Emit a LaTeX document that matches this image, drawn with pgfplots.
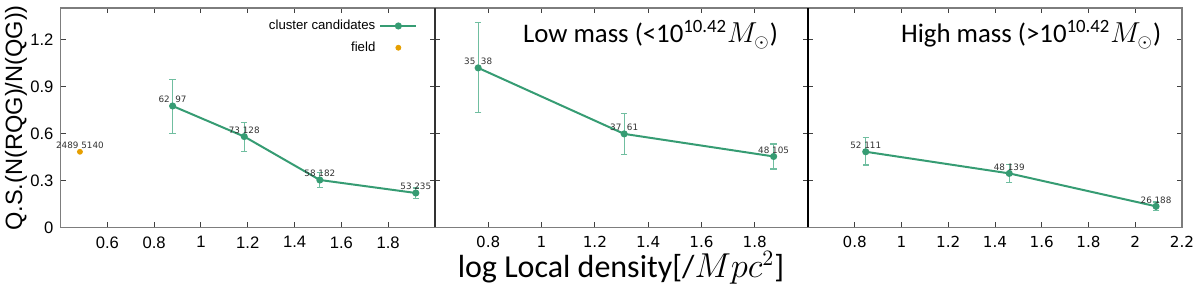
\documentclass[border=0pt]{standalone}
\usepackage{fontspec}
\setmainfont{Carlito}
\newfontfamily\arialf{Liberation Sans}
\newfontfamily\dejavu{DejaVu Sans}
\usepackage{pgfplots}
\pgfplotsset{compat=1.18}
\definecolor{lgreen}{RGB}{54,156,115}
\definecolor{errc}{RGB}{112,190,160}
\definecolor{forange}{RGB}{230,159,0}
\definecolor{framec}{RGB}{125,125,125}
\definecolor{lblc}{RGB}{50,50,50}
\tikzset{lab/.style={anchor=south, font=\dejavu\fontsize{4.4}{5}\selectfont, text=lblc, inner sep=0.5pt, yshift=0.8pt}}
\pgfplotsset{
  myleg/.style={legend image code/.code={\draw[##1, mark repeat=2, mark phase=2] plot coordinates {(0pt,0pt) (9pt,0pt) (18pt,0pt)};}},
  panel/.style={
    scale only axis, anchor=south west,
    height=109.75pt, ymin=0, ymax=1.4,
    ytick={0,0.3,0.6,0.9,1.2},
    tick align=inside, major tick length=2.5pt,
    axis line style={framec, line width=0.6pt},
    tick style={black!75, line width=0.5pt},
    clip=false,
    /pgf/number format/assume math mode=true,
    xticklabel style={yshift=-1pt},
  },
  ser/.style={color=lgreen, line width=1pt, mark=*, mark size=1.25pt,
    mark options={fill=lgreen, draw=lgreen},
    /pgfplots/error bars/y dir=both, /pgfplots/error bars/y explicit,
    /pgfplots/error bars/error bar style={color=errc, line width=0.6pt},
    /pgfplots/error bars/error mark options={rotate=90, mark size=1.6pt, color=errc, line width=0.6pt}},
}
\begin{document}
\begin{tikzpicture}
\useasboundingbox (0,0) rectangle (600pt,143.5pt);
% panel 1
\begin{axis}[panel, at={(30.25pt,29.75pt)}, width=187.25pt,
  xmin=0.4, xmax=2.0, xtick={0.6,0.8,1,1.2,1.4,1.6,1.8},
  xticklabels={0.6,0.8,1,1.2,1.4,1.6,1.8},
  yticklabels={0,0.3,0.6,0.9,1.2},
  ticklabel style={font=\arialf\fontsize{8.3}{10}\selectfont},
  legend style={draw=none, fill=none, font=\arialf\fontsize{6.6}{8}\selectfont,
    at={(0.97,0.985)}, anchor=north east, row sep=0.6pt},
  legend cell align=right, legend plot pos=right]
\addplot+[ser, myleg]
  coordinates {
  (0.879,0.775) += (0,0.169) -= (0,0.174)
  (1.185,0.580) += (0,0.091) -= (0,0.095)
  (1.508,0.303) += (0,0.048) -= (0,0.047)
  (1.918,0.220) += (0,0.032) -= (0,0.036)
  };
\addlegendentry{cluster candidates}
\addplot[only marks, mark=*, mark size=1.25pt, color=forange, mark options={fill=forange, draw=forange}, myleg]
  coordinates {(0.483,0.483)};
\addlegendentry{field}
\node[lab] at (axis cs:0.483,0.483) {2489 5140};
\node[lab] at (axis cs:0.879,0.775) {62\ \ 97};
\node[lab] at (axis cs:1.185,0.580) {73 128};
\node[lab] at (axis cs:1.508,0.303) {58 182};
\node[lab] at (axis cs:1.918,0.220) {53 235};
\end{axis}
% panel 2
\begin{axis}[panel, at={(217.5pt,29.75pt)}, width=186.5pt,
  xmin=0.6, xmax=2.0, xtick={0.8,1,1.2,1.4,1.6,1.8},
  xticklabels={0.8,1,1.2,1.4,1.6,1.8},
  yticklabels={},
  ticklabel style={font=\dejavu\fontsize{7.6}{9}\selectfont}]
\addplot+[ser] coordinates {
  (0.762,1.018) += (0,0.292) -= (0,0.283)
  (1.310,0.597) += (0,0.129) -= (0,0.129)
  (1.871,0.453) += (0,0.080) -= (0,0.080)
  };
\node[lab] at (axis cs:0.762,1.018) {35\ \ 38};
\node[lab] at (axis cs:1.310,0.597) {37\ \ 61};
\node[lab] at (axis cs:1.871,0.453) {48 105};
\draw[black!80, line width=0.9pt] (rel axis cs:0,0) -- (rel axis cs:0,1);
\end{axis}
% panel 3
\begin{axis}[panel, at={(404pt,29.75pt)}, width=187pt,
  xmin=0.6, xmax=2.2, xtick={0.8,1,1.2,1.4,1.6,1.8,2,2.2},
  xticklabels={0.8,1,1.2,1.4,1.6,1.8,2,2.2},
  yticklabels={},
  ticklabel style={font=\dejavu\fontsize{7.6}{9}\selectfont}]
\addplot+[ser] coordinates {
  (0.847,0.483) += (0,0.090) -= (0,0.085)
  (1.461,0.345) += (0,0.057) -= (0,0.057)
  (2.089,0.135) += (0,0.028) -= (0,0.027)
  };
\node[lab] at (axis cs:0.847,0.483) {52 111};
\node[lab] at (axis cs:1.461,0.345) {48 139};
\node[lab] at (axis cs:2.089,0.135) {26 188};
\draw[black, line width=1.1pt] (rel axis cs:0,0) -- (rel axis cs:0,1);
\end{axis}
% texts
\node[rotate=90, font=\arialf\fontsize{11.8}{13}\selectfont] at (8pt,84.5pt) {Q.S.(N(RQG)/N(QG))};
\node[anchor=base east, font=\fontsize{13.4}{15}\selectfont, inner sep=0pt] at (389.2pt,122pt) {Low mass (<10\textsuperscript{10.42}$M_{\odot}$)};
\node[anchor=base east, font=\fontsize{13.4}{15}\selectfont, inner sep=0pt] at (580.8pt,122pt) {High mass (>10\textsuperscript{10.42}$M_{\odot}$)};
\node[anchor=base, font=\fontsize{16}{18}\selectfont, inner sep=0pt] at (310.5pt,4.5pt) {log Local density[/$Mpc^{2}$]};
\end{tikzpicture}
\end{document}
